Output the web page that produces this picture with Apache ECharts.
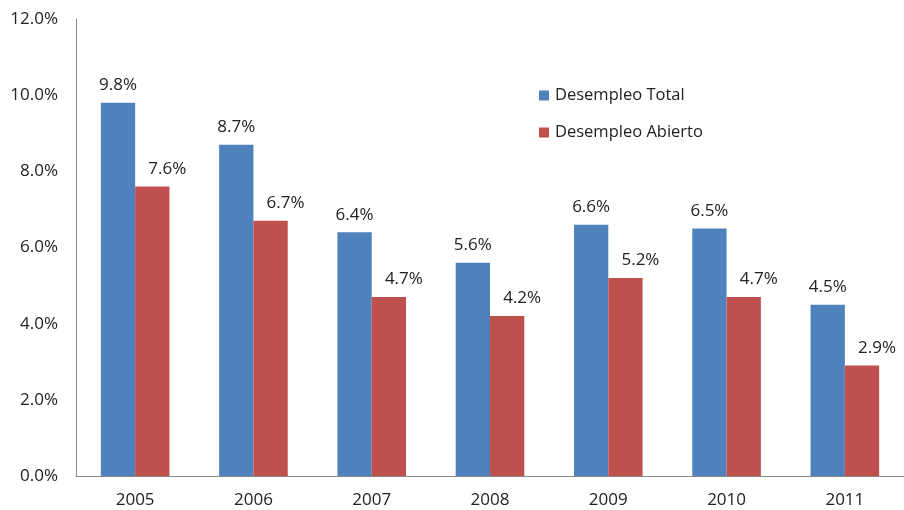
<!DOCTYPE html>
<html>
<head>
<meta charset="utf-8">
<script src="https://cdn.jsdelivr.net/npm/echarts@6/dist/echarts.min.js"></script>
<style>
  html, body { margin: 0; padding: 0; background: #fff; }
  #chart { width: 904px; height: 510px; }
</style>
</head>
<body>
<div id="chart"></div>
<script>
// data
const years = ['2005', '2006', '2007', '2008', '2009', '2010', '2011']
const desempleoTotal = [9.8, 8.7, 6.4, 5.6, 6.6, 6.5, 4.5]
const desempleoAbierto = [7.6, 6.7, 4.7, 4.2, 5.2, 4.7, 2.9]

const font = 'Open Sans'
const textColor = '#222'

const chart = echarts.init(document.getElementById('chart'))

function barLabel(dx) {
  return {
    show: true,
    position: 'top',
    distance: 9,
    offset: [dx, 0],
    color: textColor,
    fontFamily: font,
    fontSize: 17,
    formatter: p => p.value.toFixed(1) + '%'
  }
}

const option = {
  animation: false,
  backgroundColor: '#fff',
  grid: {
    left: 76,
    right: 0,
    top: 19,
    bottom: 34
  },
  legend: {
    orient: 'vertical',
    left: 534,
    top: 82,
    itemWidth: 10,
    itemHeight: 10,
    itemGap: 20,
    icon: 'rect',
    textStyle: {
      color: textColor,
      fontFamily: font,
      fontSize: 16.5,
      padding: [0, 0, 0, 1]
    }
  },
  xAxis: {
    type: 'category',
    data: years,
    axisLine: { lineStyle: { color: '#8a8a8a', width: 1 } },
    axisTick: { show: false },
    axisLabel: {
      color: textColor,
      fontFamily: font,
      fontSize: 17,
      margin: 16
    }
  },
  yAxis: {
    type: 'value',
    min: 0,
    max: 12,
    interval: 2,
    splitLine: { show: false },
    axisLine: { show: true, lineStyle: { color: '#8a8a8a', width: 1 } },
    axisTick: { show: false },
    axisLabel: {
      color: textColor,
      fontFamily: font,
      fontSize: 17,
      margin: 18,
      formatter: v => v.toFixed(1) + '%'
    }
  },
  series: [
    {
      name: 'Desempleo Total',
      type: 'bar',
      data: desempleoTotal,
      barGap: '0%',
      barCategoryGap: '42%',
      itemStyle: { color: '#4f81bd' },
      label: barLabel(0)
    },
    {
      name: 'Desempleo Abierto',
      type: 'bar',
      data: desempleoAbierto,
      itemStyle: { color: '#c0504d' },
      label: barLabel(15)
    }
  ]
}

chart.setOption(option)
</script>
</body>
</html>
